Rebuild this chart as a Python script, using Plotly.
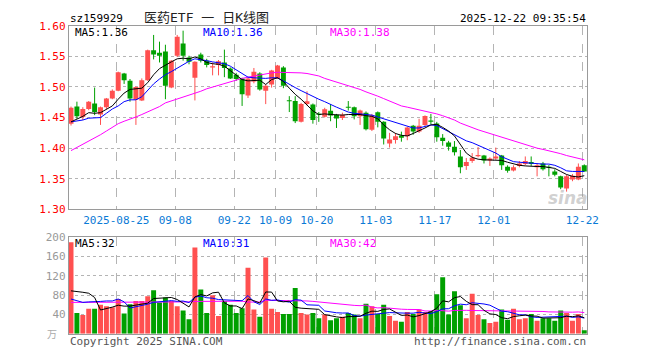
import plotly.graph_objects as go

# ---------------- data ----------------
tick_index = [8, 18, 28, 35, 42, 52, 62, 72, 87]
tick_labels = ["2025-08-25", "09-08", "09-22", "10-09", "10-20",
               "11-03", "11-17", "12-01", "12-22"]

open_ = [1.440, 1.468, 1.451, 1.464, 1.473, 1.455, 1.467, 1.481, 1.494, 1.522,
         1.510, 1.479, 1.478, 1.511, 1.560, 1.556, 1.558, 1.499, 1.551, 1.571,
         1.548, 1.515, 1.553, 1.543, 1.532, 1.536, 1.540, 1.530, 1.520, 1.514,
         1.486, 1.509, 1.522, 1.494, 1.504, 1.514, 1.532, 1.4775, 1.477, 1.443,
         1.472, 1.4715, 1.456, 1.4515, 1.461, 1.4547, 1.4494, 1.467, 1.4667, 1.452,
         1.458, 1.430, 1.4588, 1.4431, 1.4075, 1.4133, 1.4206, 1.4195, 1.4368, 1.4274,
         1.438, 1.4452, 1.4405, 1.4169, 1.4091, 1.4022, 1.3865, 1.3708, 1.3792, 1.387,
         1.388, 1.380, 1.383, 1.388, 1.3697, 1.3634, 1.3708, 1.374, 1.3776, 1.3687,
         1.375, 1.3697, 1.3619, 1.354, 1.3341, 1.3488, 1.3488, 1.3723]
high = [1.468, 1.476, 1.467, 1.477, 1.499, 1.468, 1.482, 1.496, 1.525, 1.523,
        1.513, 1.501, 1.514, 1.561, 1.585, 1.574, 1.569, 1.544, 1.585, 1.592,
        1.551, 1.542, 1.556, 1.546, 1.540, 1.544, 1.561, 1.532, 1.523, 1.515,
        1.516, 1.531, 1.524, 1.504, 1.528, 1.536, 1.534, 1.485, 1.485, 1.474,
        1.493, 1.473, 1.459, 1.466, 1.472, 1.456, 1.458, 1.477, 1.468, 1.463,
        1.460, 1.456, 1.460, 1.444, 1.425, 1.425, 1.427, 1.435, 1.438, 1.448,
        1.4536, 1.456, 1.443, 1.423, 1.412, 1.4116, 1.397, 1.384, 1.392, 1.402,
        1.389, 1.385, 1.401, 1.389, 1.372, 1.372, 1.379, 1.3865, 1.3865, 1.375,
        1.3776, 1.3723, 1.3655, 1.3551, 1.3566, 1.3577, 1.375, 1.3735]
low = [1.437, 1.448, 1.446, 1.462, 1.454, 1.438, 1.464, 1.480, 1.493, 1.505,
       1.476, 1.438, 1.477, 1.510, 1.545, 1.540, 1.480, 1.498, 1.549, 1.543,
       1.537, 1.478, 1.540, 1.532, 1.519, 1.519, 1.516, 1.513, 1.510, 1.469,
       1.482, 1.506, 1.494, 1.472, 1.499, 1.513, 1.498, 1.459, 1.441, 1.442,
       1.470, 1.440, 1.443, 1.450, 1.444, 1.433, 1.446, 1.4615, 1.447, 1.438,
       1.429, 1.428, 1.434, 1.406, 1.401, 1.4075, 1.4106, 1.413, 1.422, 1.425,
       1.435, 1.439, 1.4106, 1.404, 1.396, 1.388, 1.359, 1.3645, 1.376, 1.385,
       1.375, 1.371, 1.381, 1.3645, 1.360, 1.362, 1.3687, 1.372, 1.371, 1.354,
       1.3634, 1.354, 1.354, 1.333, 1.329, 1.346, 1.3477, 1.3619]
close = [1.466, 1.452, 1.464, 1.476, 1.459, 1.467, 1.481, 1.494, 1.524, 1.511,
         1.481, 1.500, 1.511, 1.560, 1.553, 1.551, 1.502, 1.543, 1.582, 1.551,
         1.541, 1.541, 1.543, 1.536, 1.534, 1.542, 1.531, 1.514, 1.513, 1.488,
         1.514, 1.525, 1.496, 1.502, 1.527, 1.535, 1.502, 1.4765, 1.444, 1.472,
         1.4765, 1.446, 1.4545, 1.4635, 1.4535, 1.4484, 1.4547, 1.466, 1.452, 1.4615,
         1.431, 1.4536, 1.4431, 1.416, 1.4143, 1.4195, 1.4169, 1.4337, 1.4274, 1.4368,
         1.4526, 1.4431, 1.418, 1.4117, 1.4022, 1.3933, 1.3687, 1.3776, 1.3844, 1.389,
         1.380, 1.383, 1.3865, 1.3723, 1.363, 1.3687, 1.375, 1.379, 1.374, 1.3723,
         1.3655, 1.3681, 1.3566, 1.3357, 1.354, 1.3551, 1.3697, 1.3619]
volume = [190, 43, 39, 52, 52, 60, 57, 55, 72, 42,
          61, 68, 68, 78, 90, 65, 75, 68, 57, 48,
          30, 179, 92, 43, 80, 37, 68, 60, 43, 53,
          137, 50, 35, 158, 52, 45, 41, 41, 95, 43,
          40, 43, 32, 40, 28, 32, 35, 43, 40, 32,
          62, 57, 41, 60, 37, 27, 25, 45, 41, 50,
          45, 47, 82, 117, 40, 88, 59, 32, 83, 39,
          30, 22, 25, 50, 29, 52, 30, 32, 41, 27,
          32, 32, 27, 48, 43, 27, 41, 7]

ma5 = [1.443, 1.447, 1.452, 1.458, 1.457, 1.458, 1.463, 1.469, 1.480, 1.490,
       1.496, 1.497, 1.498, 1.507, 1.520, 1.530, 1.536, 1.541, 1.546, 1.547,
       1.546, 1.549, 1.546, 1.540, 1.538, 1.537, 1.534, 1.527, 1.519, 1.512,
       1.510, 1.510, 1.511, 1.504, 1.512, 1.515, 1.509, 1.498, 1.488, 1.480,
       1.471, 1.461, 1.455, 1.456, 1.455, 1.454, 1.454, 1.455, 1.455, 1.455,
       1.453, 1.452, 1.448, 1.438, 1.430, 1.424, 1.421, 1.420, 1.424, 1.428,
       1.433, 1.438, 1.439, 1.434, 1.428, 1.420, 1.406, 1.392, 1.385, 1.382,
       1.381, 1.381, 1.381, 1.380, 1.377, 1.374, 1.372, 1.371, 1.370, 1.370,
       1.370, 1.369, 1.367, 1.362, 1.357, 1.354, 1.353, 1.355]
ma10 = [1.443, 1.444, 1.446, 1.449, 1.449, 1.450, 1.457, 1.464, 1.469, 1.476,
        1.479, 1.479, 1.484, 1.495, 1.505, 1.513, 1.520, 1.525, 1.531, 1.537,
        1.542, 1.546, 1.545, 1.543, 1.541, 1.539, 1.538, 1.534, 1.528, 1.522,
        1.516, 1.515, 1.514, 1.514, 1.515, 1.515, 1.510, 1.504, 1.499, 1.494,
        1.489, 1.485, 1.480, 1.476, 1.471, 1.467, 1.463, 1.459, 1.457, 1.456,
        1.455, 1.454, 1.451, 1.448, 1.444, 1.441, 1.438, 1.435, 1.433, 1.433,
        1.435, 1.438, 1.437, 1.432, 1.426, 1.422, 1.416, 1.412, 1.409, 1.405,
        1.400, 1.396, 1.392, 1.386, 1.382, 1.378, 1.377, 1.376, 1.375, 1.374,
        1.374, 1.374, 1.372, 1.368, 1.363, 1.362, 1.362, 1.362]
ma30 = [1.396, 1.401, 1.406, 1.411, 1.417, 1.422, 1.428, 1.434, 1.440, 1.444,
        1.447, 1.451, 1.455, 1.459, 1.463, 1.468, 1.474, 1.477, 1.480, 1.484,
        1.487, 1.490, 1.493, 1.497, 1.500, 1.503, 1.506, 1.509, 1.511, 1.514,
        1.516, 1.518, 1.519, 1.521, 1.523, 1.524, 1.524, 1.524, 1.524, 1.523,
        1.522, 1.520, 1.518, 1.514, 1.511, 1.509, 1.506, 1.503, 1.499, 1.496,
        1.492, 1.489, 1.485, 1.481, 1.477, 1.473, 1.469, 1.467, 1.465, 1.463,
        1.461, 1.459, 1.456, 1.453, 1.450, 1.446, 1.441, 1.437, 1.434, 1.430,
        1.427, 1.424, 1.420, 1.417, 1.414, 1.411, 1.408, 1.405, 1.402, 1.400,
        1.398, 1.396, 1.393, 1.391, 1.388, 1.386, 1.383, 1.381]

vma5 = [89, 88, 86, 84, 75.2, 49.2, 52, 55.2, 59.2, 57.2,
        57.4, 59.6, 62.2, 63.4, 73, 73.8, 75.2, 75.2, 71, 62.6,
        55.6, 76.4, 81.2, 78.4, 84.8, 86.2, 64, 57.6, 57.6, 52.2,
        72.2, 68.6, 63.6, 86.6, 86.4, 68, 66.2, 67.4, 54.8, 53,
        52, 52.4, 50.6, 39.6, 36.6, 35, 33.4, 35.6, 35.6, 36.4,
        42.4, 46.8, 46.4, 50.4, 51.4, 44.4, 38, 38.8, 35, 37.6,
        41.2, 45.6, 53, 68.2, 66.2, 74.8, 77.2, 67.2, 60.4, 60.2,
        48.6, 41.2, 39.8, 33.2, 31.2, 35.6, 37.2, 38.6, 36.8, 36.4,
        32.4, 32.8, 31.8, 33.2, 36.4, 35.4, 37.2, 33.2]
vma10 = [72, 69, 65, 66, 66, 67, 68, 68, 72, 66.2,
         53.3, 55.8, 58.7, 61.3, 65.1, 65.6, 67.4, 68.7, 67.2, 67.8,
         64.7, 75.8, 78.2, 74.7, 73.7, 70.9, 70.2, 69.4, 68, 68.5,
         79.2, 66.3, 60.6, 72.1, 69.3, 70.1, 67.4, 65.5, 70.7, 69.7,
         60, 59.3, 59, 47.2, 44.8, 43.5, 42.9, 43.1, 37.6, 36.5,
         38.7, 40.1, 41, 43, 43.9, 43.4, 42.4, 42.6, 42.7, 44.5,
         42.8, 41.8, 45.9, 51.6, 51.9, 58, 61.4, 60.1, 64.3, 63.2,
         61.7, 59.2, 53.5, 46.8, 45.7, 42.1, 39.2, 39.2, 35, 33.8,
         34, 35, 35.2, 35, 36.4, 33.9, 35, 32.5]
vma30 = [65, 65, 65, 65, 65, 65, 65, 65, 65, 65,
         65, 66, 66, 66, 66, 66, 66, 66, 66, 66,
         66, 67, 67, 67, 67, 67, 67, 67, 67, 67.5,
         65.7, 66, 65.8, 69.4, 69.4, 68.9, 68.3, 67.9, 68.6, 68.7,
         68, 67.1, 65.9, 64.7, 62.6, 61.5, 60.2, 59.3, 58.8, 58.2,
         59.3, 55.2, 53.5, 54.1, 52.7, 52.3, 50.9, 50.4, 50.3, 50.2,
         47.2, 47.1, 48.6, 47.3, 46.9, 48.3, 48.9, 48.6, 48.2, 48.1,
         47.7, 47, 46.8, 47.1, 47.2, 47.8, 47.7, 47.3, 47.3, 47.2,
         46.2, 45.3, 44.9, 44.5, 44.7, 44.7, 45.2, 43.9]

# legend values printed on the chart
price_ma_labels = ["MA5:1.36", "MA10:1.36", "MA30:1.38"]
vol_ma_labels = ["MA5:32", "MA10:31", "MA30:42"]

price_ticks = [1.30, 1.35, 1.40, 1.45, 1.50, 1.55, 1.60]
vol_ticks = [40, 80, 120, 160, 200]

# ---------------- styling ----------------
W, H = 660, 360
RED = "#ff5050"
GREEN = "#00a000"
MONO = "DejaVu Sans Mono"
CJK = "DejaVu Sans Mono, Noto Sans CJK SC"
GRID = "#b4b4b4"
FRAME = "#9a9a9a"
MA_COLORS = ["#000000", "#0000ff", "#ff00ff"]

n = len(close)
x = list(range(n))
up = [c >= o for o, c in zip(open_, close)]
colors = [RED if u else GREEN for u in up]
body_base = [min(o, c) for o, c in zip(open_, close)]
body_h = [max(abs(c - o), 0.0017) for o, c in zip(open_, close)]

fig = go.Figure()

# wicks
for col, flag in ((RED, True), (GREEN, False)):
    wx, wy = [], []
    for i in range(n):
        if up[i] == flag:
            wx += [x[i], x[i], None]
            wy += [low[i], high[i], None]
    fig.add_trace(go.Scatter(x=wx, y=wy, mode="lines",
                             line=dict(color=col, width=1),
                             xaxis="x", yaxis="y", hoverinfo="skip"))

# candle bodies
fig.add_trace(go.Bar(x=x, y=body_h, base=body_base, width=0.84,
                     marker=dict(color=colors, line=dict(width=0)),
                     xaxis="x", yaxis="y"))

# price moving averages
for vals, col in ((ma30, MA_COLORS[2]), (ma10, MA_COLORS[1]), (ma5, MA_COLORS[0])):
    fig.add_trace(go.Scatter(x=x, y=vals, mode="lines",
                             line=dict(color=col, width=1),
                             xaxis="x", yaxis="y"))

# volume bars
fig.add_trace(go.Bar(x=x, y=volume, width=0.84,
                     marker=dict(color=colors, line=dict(width=0)),
                     xaxis="x2", yaxis="y2"))

for vals, col in ((vma30, MA_COLORS[2]), (vma10, MA_COLORS[1]), (vma5, MA_COLORS[0])):
    fig.add_trace(go.Scatter(x=x, y=vals, mode="lines",
                             line=dict(color=col, width=1),
                             xaxis="x2", yaxis="y2"))

# ---------------- layout ----------------
left_px, right_px = 70, 597.3
xdom = [left_px / W, right_px / W]
xr = [-0.37, 87.52]
grid_pos = [t - 0.33 for t in tick_index]

common_x = dict(range=xr, domain=xdom, showline=True, mirror=True,
                linecolor=FRAME, linewidth=1, zeroline=False,
                showgrid=True, gridcolor=GRID, griddash="dash", gridwidth=1,
                tickvals=grid_pos, ticks="", fixedrange=True)

fig.update_layout(
    width=W, height=H,
    margin=dict(l=0, r=0, t=0, b=0),
    paper_bgcolor="white", plot_bgcolor="white",
    showlegend=False, barmode="overlay",
    xaxis=dict(common_x, anchor="y", ticktext=tick_labels,
               tickfont=dict(family=MONO, size=11, color="#0a7ad6")),
    yaxis=dict(range=[1.30, 1.60], domain=[(H - 211) / H, (H - 20.5) / H],
               anchor="x", showline=True, mirror=True, linecolor=FRAME,
               zeroline=False, showgrid=True, gridcolor=GRID, griddash="dot",
               tickvals=price_ticks, ticktext=[f"{v:.2f}" for v in price_ticks],
               ticks="", tickfont=dict(family=MONO, size=11, color="#ff0000")),
    xaxis2=dict(common_x, anchor="y2", showticklabels=False),
    yaxis2=dict(range=[0, 200], domain=[(H - 340) / H, (H - 240) / H],
                anchor="x2", showline=True, mirror=True, linecolor=FRAME,
                zeroline=False, showgrid=True, gridcolor=GRID, griddash="dot",
                tickvals=vol_ticks, ticktext=[str(v) for v in vol_ticks],
                ticks="", tickfont=dict(family=MONO, size=11, color="#999999")),
)


def ann(text, px, py, color="#000", size=11, family=MONO, xanchor="left", **kw):
    fig.add_annotation(text=text, x=px / W, y=1 - py / H, xref="paper", yref="paper",
                       showarrow=False, xanchor=xanchor, yanchor="middle",
                       font=dict(family=family, size=size, color=color), **kw)


NB = "\u00a0"
ann("sz159929", 69, 13)
ann(f"医药ETF{NB}一{NB}日K线图", 210, 12, color="#222", size=13, family=CJK,
    xanchor="center")
ann("2025-12-22 09:35:54", 598, 13, xanchor="right")
for lab, px, col in zip(price_ma_labels, (74, 204, 334), MA_COLORS):
    ann(lab, px, 27, color=col)
for lab, px, col in zip(vol_ma_labels, (74, 204, 334), MA_COLORS):
    ann(lab, px, 246, color=col)
ann("万", 60, 340, color="#aaaaaa", size=10, family="Noto Sans CJK SC", xanchor="right")
ann("Copyright 2025 SINA.COM", 69, 348, color="#555")
ann("http://finance.sina.com.cn", 598, 348, color="#555", xanchor="right")
ann("<b><i>sina</i></b>", 578, 199, color="rgba(150,150,150,0.45)", size=17,
    family="DejaVu Sans", xanchor="center")

fig.write_html("out.html", config={"displayModeBar": False, "staticPlot": True},
               post_script="document.body.style.margin='0';")
